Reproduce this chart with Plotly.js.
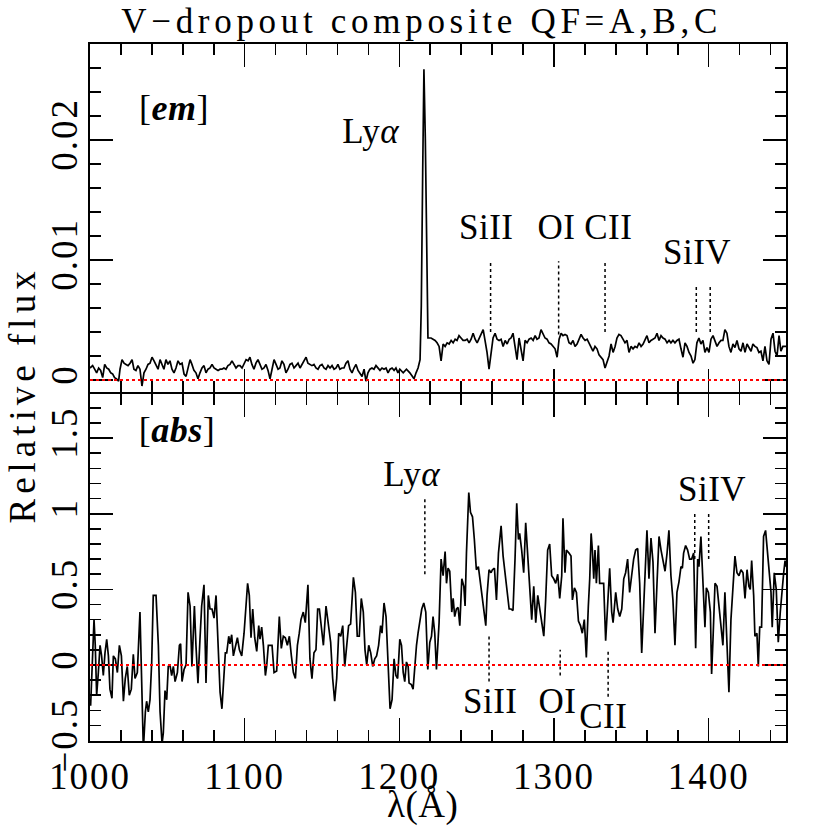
<!DOCTYPE html>
<html>
<head>
<meta charset="utf-8">
<script src="https://cdn.plot.ly/plotly-3.0.1.min.js"></script>
<style>
  body { margin: 0; background: #fff; }
  #graph { width: 830px; height: 830px; }
  .main-svg text { letter-spacing: 2px; }
  .gtitle { letter-spacing: 4.7px !important; }
  .annotation text { letter-spacing: 0.5px; }
  .annotation[data-index="0"] text { letter-spacing: 5px; }
</style>
</head>
<body>
<div id="graph"></div>
<script>
// top panel: emission composite
const lamEm = [
  1000.0,1001.7,1003.0,1004.3,1005.6,1006.9,1008.2,1009.5,1010.8,1012.1,
  1013.4,1014.7,1015.9,1017.2,1018.5,1019.4,1020.7,1022.0,1023.3,1024.6,
  1025.9,1027.2,1028.4,1029.7,1031.0,1032.3,1033.6,1034.9,1036.2,1037.5,
  1038.8,1040.1,1041.4,1042.7,1044.0,1045.3,1046.6,1047.8,1049.1,1050.4,
  1051.7,1053.0,1054.3,1055.6,1056.9,1058.2,1059.5,1060.8,1062.1,1063.4,
  1064.7,1065.9,1067.2,1068.5,1069.8,1071.1,1072.4,1073.7,1075.0,1076.3,
  1077.6,1078.9,1080.2,1081.5,1082.8,1084.1,1085.3,1086.6,1087.9,1089.2,
  1090.5,1091.8,1093.1,1094.4,1095.7,1097.0,1098.3,1099.6,1100.9,1102.2,
  1103.4,1104.7,1106.0,1107.3,1108.6,1109.9,1111.2,1112.5,1113.8,1115.1,
  1116.4,1117.7,1119.0,1120.3,1121.6,1122.8,1124.1,1125.4,1126.7,1128.0,
  1129.3,1130.6,1131.9,1133.2,1134.5,1135.8,1137.1,1138.4,1139.7,1140.9,
  1142.2,1143.5,1144.8,1146.1,1147.4,1148.7,1150.0,1151.3,1152.6,1153.9,
  1155.2,1156.5,1157.8,1159.1,1160.3,1161.6,1162.9,1164.2,1165.5,1166.8,
  1168.1,1169.4,1170.7,1172.0,1173.3,1174.6,1175.9,1177.2,1178.4,1179.7,
  1181.0,1182.3,1183.6,1184.9,1186.2,1187.5,1188.8,1190.1,1191.4,1192.7,
  1194.0,1195.3,1196.6,1197.8,1199.1,
  1200.3,1202.5,1204.6,1206.8,1208.2,1209.5,1210.8,1212.1,1213.4,1214.2,
  1215.1,1215.9,1216.8,1217.7,1218.5,
  1220.5,1221.8,1223.1,1224.4,1225.7,1227.0,1228.3,1229.6,1230.9,1232.2,
  1233.5,1234.8,1236.1,1237.3,1238.6,1239.9,1241.2,1242.5,1243.8,1245.1,
  1246.4,1247.7,1249.0,1250.3,1251.6,1252.9,1254.2,1255.4,1256.7,1258.0,
  1259.3,1260.6,1261.9,1263.2,1264.5,1265.8,1267.1,1268.4,1269.7,1271.0,
  1272.2,1273.5,1274.8,1276.1,1277.4,1278.7,1280.0,1281.3,1282.6,1283.9,
  1285.2,1286.5,1287.8,1289.0,1290.3,1291.6,1292.9,1294.2,1295.5,1296.8,
  1298.1,1299.4,1300.7,1302.0,1303.3,1304.6,1305.8,1307.1,1308.4,1309.7,
  1311.0,1312.3,1313.6,1314.9,1316.2,1317.5,1318.8,1320.1,1321.4,1322.6,
  1323.9,1325.2,1326.5,1327.8,1329.1,1330.4,1331.7,1333.0,1334.3,1335.6,
  1336.9,1338.2,1339.5,1340.7,1342.0,1343.3,1344.6,1345.9,1347.2,1348.5,
  1349.8,1351.1,1352.4,1353.7,1355.0,1356.3,1357.6,1358.8,1360.1,1361.4,
  1362.7,1364.0,1365.3,1366.6,1367.9,1369.2,1370.5,1371.8,1373.1,1374.4,
  1375.6,1376.9,1378.2,1379.5,1380.8,1382.1,1383.4,1384.7,1386.0,1387.3,
  1388.6,1389.9,1391.1,1392.4,1393.7,1395.0,1396.3,1397.6,1398.9,1400.2,
  1401.5,1402.8,1404.1,1405.4,1406.7,1408.0,1409.2,1410.5,1411.8,1413.1,
  1414.4,1415.7,1417.0,1418.3,1419.6,1420.9,1422.2,1423.5,1424.8,1426.1,
  1427.4,1428.6,1429.9,1431.2,1432.5,1433.8,1435.1,1436.4,1437.7,1439.0,
  1440.3,1441.6,1442.9,1444.2,1445.5,1446.7,1448.0,1450.0
];
const fluxEm = [
  0.0010,0.0012,0.0009,0.0006,0.0010,0.0008,0.0002,0.0013,0.0010,0.0009,
  0.0006,0.0005,0.0002,0.0001,-0.0001,0.0009,0.0017,0.0014,0.0013,0.0012,
  0.0014,0.0017,0.0009,0.0008,0.0012,0.0009,-0.0005,0.0006,0.0009,0.0013,
  0.0014,0.0019,0.0016,0.0013,0.0009,0.0017,0.0013,0.0009,0.0017,0.0013,
  0.0016,0.0009,0.0006,0.0010,0.0016,0.0013,0.0014,0.0005,0.0003,0.0009,
  0.0017,0.0013,0.0008,0.0006,0.0001,0.0006,0.0010,0.0012,0.0006,0.0009,
  0.0010,0.0013,0.0010,0.0009,0.0008,0.0009,0.0009,0.0010,0.0009,0.0012,
  0.0013,0.0016,0.0013,0.0010,0.0012,0.0012,0.0010,0.0013,0.0017,0.0016,
  0.0019,0.0013,0.0009,0.0014,0.0017,0.0013,0.0009,0.0010,0.0013,0.0008,
  0.0001,0.0009,0.0017,0.0013,0.0009,0.0010,0.0016,0.0013,0.0006,0.0009,
  0.0013,0.0014,0.0010,0.0012,0.0014,0.0010,0.0013,0.0016,0.0019,0.0014,
  0.0013,0.0012,0.0013,0.0010,0.0009,0.0012,0.0013,0.0010,0.0009,0.0012,
  0.0010,0.0012,0.0009,0.0010,0.0013,0.0009,0.0010,0.0010,0.0014,0.0016,
  0.0009,0.0006,0.0010,0.0013,0.0008,0.0005,0.0003,0.0009,-0.0001,0.0006,
  0.0009,0.0010,0.0009,0.0012,0.0010,0.0008,0.0010,0.0009,0.0010,0.0006,
  0.0009,0.0010,0.0008,0.0010,0.0006,
  0.0009,0.0006,0.0009,0.0006,0.0003,0.0001,0.0006,0.0010,0.0017,0.0062,
  0.0173,0.0259,0.0201,0.0117,0.0035,
  0.0035,0.0034,0.0033,0.0031,0.0028,0.0016,0.0030,0.0028,0.0031,0.0030,
  0.0033,0.0031,0.0034,0.0033,0.0037,0.0035,0.0033,0.0033,0.0034,0.0031,
  0.0034,0.0039,0.0034,0.0031,0.0035,0.0039,0.0042,0.0033,0.0023,0.0009,
  0.0020,0.0035,0.0039,0.0034,0.0033,0.0034,0.0028,0.0033,0.0030,0.0034,
  0.0035,0.0039,0.0028,0.0017,0.0035,0.0027,0.0016,0.0033,0.0031,0.0034,
  0.0035,0.0033,0.0037,0.0034,0.0035,0.0042,0.0038,0.0035,0.0034,0.0031,
  0.0030,0.0028,0.0026,0.0019,0.0034,0.0039,0.0037,0.0038,0.0037,0.0031,
  0.0030,0.0033,0.0028,0.0030,0.0034,0.0038,0.0035,0.0033,0.0034,0.0031,
  0.0027,0.0024,0.0028,0.0026,0.0021,0.0019,0.0017,0.0010,0.0016,0.0020,
  0.0030,0.0023,0.0028,0.0035,0.0038,0.0037,0.0034,0.0031,0.0033,0.0023,
  0.0028,0.0026,0.0028,0.0027,0.0031,0.0028,0.0030,0.0033,0.0037,0.0031,
  0.0033,0.0034,0.0035,0.0039,0.0033,0.0037,0.0035,0.0034,0.0031,0.0033,
  0.0031,0.0033,0.0031,0.0033,0.0034,0.0026,0.0019,0.0031,0.0028,0.0023,
  0.0020,0.0014,0.0017,0.0031,0.0035,0.0030,0.0033,0.0023,0.0027,0.0023,
  0.0034,0.0037,0.0033,0.0028,0.0031,0.0033,0.0033,0.0042,0.0039,0.0028,
  0.0023,0.0030,0.0027,0.0033,0.0026,0.0024,0.0031,0.0023,0.0030,0.0027,
  0.0024,0.0030,0.0028,0.0027,0.0023,0.0024,0.0016,0.0028,0.0016,0.0013,
  0.0034,0.0039,0.0024,0.0020,0.0037,0.0024,0.0028,0.0028
];

// bottom panel: absorption composite
const lamAbs = [
  1000.4,1001.3,1002.6,1003.4,1004.3,1005.4,1006.5,1007.5,1008.6,1009.7,
  1010.8,1011.9,1012.9,1014.2,1015.1,1016.4,1017.7,1019.0,1020.3,1021.6,
  1022.8,1024.1,1025.4,1026.7,1028.0,1029.1,1030.6,1032.3,1033.6,1034.5,
  1035.8,1036.6,1037.7,1038.8,1039.9,1040.9,1042.7,1044.2,1045.3,1046.6,
  1047.4,1048.5,1049.6,1050.6,1051.7,1052.8,1053.9,1055.0,1056.5,1057.8,
  1058.6,1059.5,1060.8,1062.1,1063.4,1064.7,1065.9,1067.5,1068.5,1069.8,
  1071.1,1072.2,1073.7,1075.0,1076.5,1077.6,1078.9,1080.2,1081.5,1083.0,
  1084.1,1085.3,1086.2,1087.5,1088.4,1089.7,1090.5,1091.6,1092.7,1094.0,
  1095.3,1096.6,1098.1,1099.6,1100.6,1101.9,1103.0,1104.1,1105.2,1106.5,
  1107.8,1109.1,1109.9,1111.0,1112.1,1113.4,1114.2,1115.3,1116.4,1117.7,
  1119.0,1120.7,1122.4,1123.7,1125.0,1126.3,1127.6,1128.9,1130.2,1131.5,
  1132.8,1134.1,1135.3,1136.4,1137.9,1139.2,1140.9,1142.2,1143.5,1144.8,
  1146.1,1147.2,1148.3,1149.6,1150.9,1152.6,1154.1,1155.6,1156.9,1158.2,
  1159.5,1160.8,1162.1,1163.4,1164.7,1165.9,1167.2,1168.5,1170.3,1171.6,
  1172.8,1174.1,1175.4,1176.7,1177.8,1178.9,1180.2,1181.5,1182.8,1184.1,
  1185.3,1186.6,1187.9,1188.8,1190.1,1191.4,1192.7,1194.0,1195.3,1196.6,
  1197.8,1198.9,
  1200.3,1201.4,1202.5,1203.5,1204.6,1205.7,1206.3,1207.8,1208.9,1210.0,
  1211.1,1212.1,1213.2,1214.5,1215.8,1217.1,1218.4,1219.7,1220.8,1221.8,
  1222.9,1224.0,1225.7,1227.0,1228.3,1229.6,1230.5,1231.5,1232.6,1233.9,
  1234.8,1235.8,1236.9,1238.0,1239.1,1240.4,1241.7,1242.5,1243.4,1244.9,
  1246.0,1247.3,1248.5,1249.8,1251.1,1252.0,1252.9,1253.7,1254.6,1255.9,
  1256.7,1258.0,1259.3,1260.2,1261.5,1262.8,1264.1,1265.8,1267.1,1268.4,
  1269.7,1271.0,1272.2,1273.5,1274.8,1275.9,1277.0,1277.8,1279.1,1280.4,
  1281.7,1283.0,1284.3,1285.6,1286.9,1288.2,1289.5,1290.8,1292.1,1293.4,
  1294.6,1295.9,1297.2,1298.5,1299.8,1301.1,1302.4,1303.7,1305.0,1305.8,
  1307.1,1308.0,1309.7,1311.0,1311.9,1313.2,1314.5,1315.8,1317.1,1318.3,
  1319.6,1320.9,1322.2,1323.1,1324.0,1324.8,1325.7,1326.5,1327.4,1328.7,
  1329.5,1330.8,1332.1,1333.4,1334.7,1336.0,1337.3,1338.2,1339.9,1341.2,
  1342.5,1343.8,1345.1,1346.3,1347.6,1348.9,1350.2,1351.5,1352.8,1354.1,
  1355.4,1356.7,1358.0,1359.3,1360.1,1361.4,1362.7,1364.0,1365.3,1366.6,
  1367.9,1369.2,1370.5,1371.8,1373.1,1374.3,1375.6,1376.9,1378.2,1379.5,
  1380.8,1382.1,1383.0,1383.8,1385.1,1386.4,1387.7,1389.0,1390.3,1391.6,
  1392.9,1393.7,1395.0,1396.3,1397.6,1398.5,1399.8,1401.1,1401.9,1402.8,
  1404.1,1405.4,1406.7,1408.0,1409.2,1410.5,1411.8,1413.1,1414.4,1415.7,
  1417.0,1418.3,1419.6,1420.9,1422.2,1423.5,1424.8,1426.0,1426.9,1427.8,
  1429.1,1429.9,1431.2,1432.1,1433.0,1434.2,1435.5,1436.8,1438.1,1439.0,
  1440.3,1441.1,1442.4,1443.7,1445.0,1446.3,1447.6,1448.5,1449.4,1450.0
];
const fluxAbs = [
  -0.27,0.02,0.30,0.13,-0.20,-0.05,0.13,0.06,-0.07,0.08,
  0.17,0.06,-0.16,-0.22,0.06,0.04,-0.05,0.13,0.06,-0.24,
  -0.09,-0.01,-0.20,-0.16,0.07,-0.09,-0.05,0.35,-0.09,-0.56,
  -0.31,-0.24,-0.31,-0.23,0.02,0.46,0.46,0.13,-0.31,-0.52,
  -0.45,-0.17,-0.23,-0.01,0.00,-0.07,-0.01,-0.11,-0.05,0.13,
  0.14,-0.11,-0.03,0.00,0.48,0.39,-0.01,0.39,0.13,-0.12,
  0.17,0.39,0.53,-0.12,0.46,0.37,0.37,0.31,0.46,0.02,
  -0.18,-0.29,-0.14,0.08,0.08,0.19,0.14,0.20,0.06,0.13,
  0.18,0.10,0.06,0.21,0.35,0.54,0.46,0.18,0.37,0.18,
  0.09,0.26,0.17,0.25,0.13,-0.07,-0.01,0.13,0.13,0.13,
  -0.05,-0.04,0.32,0.11,0.19,0.18,0.13,0.19,0.06,-0.05,
  -0.09,0.13,0.21,0.30,0.35,0.28,0.53,0.04,-0.09,0.08,
  0.10,0.37,0.37,0.24,0.13,0.39,0.26,0.15,-0.09,-0.24,
  -0.09,0.21,0.19,0.26,-0.01,0.15,0.26,0.27,0.58,0.48,
  0.19,0.19,0.44,0.35,0.10,0.00,0.13,0.08,-0.01,0.04,
  0.06,0.13,0.26,0.21,0.41,0.32,-0.05,-0.29,-0.23,0.04,
  -0.07,-0.09,
  0.17,0.13,-0.05,-0.11,0.02,-0.01,-0.12,-0.13,-0.16,0.02,
  0.13,0.21,0.30,0.37,0.41,0.35,-0.03,0.15,0.19,0.32,
  0.21,-0.03,0.28,0.70,0.59,0.75,0.54,0.64,0.62,0.35,
  0.44,0.32,0.37,0.38,0.26,0.57,0.52,0.39,0.74,1.14,
  1.01,0.98,0.83,0.63,0.65,0.57,0.52,0.46,0.37,0.26,
  0.46,0.63,0.61,0.63,0.64,0.43,0.74,0.92,0.72,0.61,
  0.48,0.37,0.37,0.36,0.70,1.07,0.83,0.87,0.76,0.61,
  0.94,0.70,0.46,0.30,0.52,0.28,0.46,0.37,0.25,0.19,
  0.43,0.76,0.80,0.59,0.57,0.54,0.60,0.44,0.59,0.97,
  0.61,0.76,0.74,0.72,0.43,0.51,0.48,0.29,0.26,0.21,
  0.30,0.05,0.39,0.57,0.87,0.76,0.57,0.76,0.54,0.79,
  0.54,0.54,0.54,0.16,0.39,0.64,0.35,0.28,0.48,0.37,
  0.32,0.37,0.57,0.61,0.70,0.48,0.59,0.70,0.76,0.77,
  0.54,0.08,0.39,0.69,0.89,0.57,0.84,0.68,0.21,0.54,
  0.85,0.76,0.70,0.62,0.74,0.89,0.59,0.43,0.13,0.48,
  0.55,0.65,0.64,0.74,0.79,0.76,0.70,0.70,0.74,0.11,
  0.70,0.65,0.85,0.50,0.25,0.51,0.48,0.35,-0.06,0.17,
  0.54,0.52,0.39,0.26,0.13,0.48,0.17,-0.18,0.30,0.48,
  0.72,0.61,0.59,0.63,0.61,0.44,0.63,0.52,0.50,0.69,
  0.46,0.19,0.21,-0.01,0.25,0.25,0.85,0.89,0.72,0.65,
  0.48,0.25,0.61,0.50,0.15,0.35,0.53,0.61,0.69,0.65
];

// line markers (dotted ticks)
const emMarkWave = [1259, 1303, 1333, 1392, 1401];
const emMarkTop  = [0.0099, 0.0099, 0.0099, 0.0078, 0.0078];
const emMarkBase = [0.0040, 0.0038, 0.0040, 0.0040, 0.0040];
const absMarkWave = [1216.5, 1258, 1304, 1335, 1391, 1400];
const absMarkTop  = [1.11, 0.20, 0.10, 0.10, 1.01, 1.01];
const absMarkBase = [0.60, -0.11, -0.07, -0.21, 0.70, 0.70];

// line labels
const emLabelText = ['Ly<i>α</i>', 'SiII', 'OI', 'CII', 'SiIV'];
const emLabelWave = [1181.6, 1256.5, 1301.8, 1335.4, 1392.6];
const emLabelFlux = [0.0207, 0.0127, 0.0127, 0.0127, 0.0106];
const absLabelText = ['Ly<i>α</i>', 'SiIV', 'SiII', 'OI', 'CII'];
const absLabelWave = [1208.4, 1402.3, 1259.1, 1302.1, 1331.8];
const absLabelFlux = [1.26, 1.16, -0.24, -0.24, -0.34];

const xTicks = [1000, 1100, 1200, 1300, 1400];
const emTicks = [0, 0.01, 0.02];
const absTicks = [-0.5, 0, 0.5, 1, 1.5];

const serif = 'Liberation Serif, Times New Roman, serif';
const ink = 'black';

let traceEm = {
  x: lamEm, y: fluxEm, xaxis: 'x2', yaxis: 'y2',
  type: 'scatter', mode: 'lines',
  line: { color: ink, width: 1.7 }, hoverinfo: 'skip'
};
let traceAbs = {
  x: lamAbs, y: fluxAbs, xaxis: 'x', yaxis: 'y',
  type: 'scatter', mode: 'lines',
  line: { color: ink, width: 1.7 }, hoverinfo: 'skip'
};

const shapes = [];
// zero levels
shapes.push({ type: 'line', xref: 'paper', x0: 0, x1: 1, yref: 'y2', y0: 0, y1: 0,
  line: { color: 'red', width: 2, dash: 'dot' } });
shapes.push({ type: 'line', xref: 'paper', x0: 0, x1: 1, yref: 'y', y0: 0, y1: 0,
  line: { color: 'red', width: 2, dash: 'dot' } });
emMarkWave.forEach(function (w, i) {
  shapes.push({ type: 'line', xref: 'x2', yref: 'y2', x0: w, x1: w,
    y0: emMarkBase[i], y1: emMarkTop[i], line: { color: ink, width: 1.5, dash: 'dot' } });
});
absMarkWave.forEach(function (w, i) {
  shapes.push({ type: 'line', xref: 'x', yref: 'y', x0: w, x1: w,
    y0: absMarkBase[i], y1: absMarkTop[i], line: { color: ink, width: 1.5, dash: 'dot' } });
});

const annotations = [];
// shared y title (index 0, gets extra letter spacing)
annotations.push({ text: 'Relative flux', xref: 'paper', yref: 'paper',
  x: -0.0977, y: 0.4964, textangle: -90, showarrow: false,
  xanchor: 'center', yanchor: 'middle', font: { family: serif, size: 37, color: ink } });
annotations.push({ text: 'λ(Å)', xref: 'paper', yref: 'paper',
  x: 0.478, y: -0.092, showarrow: false, xanchor: 'center', yanchor: 'middle',
  font: { family: serif, size: 37, color: ink } });
annotations.push({ text: '[<b><i>em</i></b>]', xref: 'x2', yref: 'y2',
  x: 1054.3, y: 0.0227, showarrow: false, xanchor: 'center', yanchor: 'middle',
  font: { family: serif, size: 36, color: ink } });
annotations.push({ text: '[<b><i>abs</i></b>]', xref: 'x', yref: 'y',
  x: 1056.5, y: 1.557, showarrow: false, xanchor: 'center', yanchor: 'middle',
  font: { family: serif, size: 36, color: ink } });
emLabelText.forEach(function (t, i) {
  annotations.push({ text: t, xref: 'x2', yref: 'y2', x: emLabelWave[i], y: emLabelFlux[i],
    showarrow: false, xanchor: 'center', yanchor: 'middle',
    font: { family: serif, size: 35, color: ink } });
});
absLabelText.forEach(function (t, i) {
  annotations.push({ text: t, xref: 'x', yref: 'y', x: absLabelWave[i], y: absLabelFlux[i],
    showarrow: false, xanchor: 'center', yanchor: 'middle',
    font: { family: serif, size: 35, color: ink } });
});

const axisBase = {
  showline: true, linecolor: ink, linewidth: 2, mirror: 'allticks',
  ticks: 'inside', tickcolor: ink, tickwidth: 1.6, ticklen: 23,
  showgrid: false, zeroline: false, fixedrange: true,
  tickfont: { family: serif, size: 37, color: ink }
};

let layout = {
  width: 830, height: 830,
  margin: { l: 90, r: 44, t: 44, b: 89 },
  paper_bgcolor: 'white', plot_bgcolor: 'white',
  showlegend: false,
  title: {
    text: 'V−dropout composite QF=A,B,C',
    font: { family: serif, size: 35, color: ink },
    x: 0.508, xref: 'container', xanchor: 'center',
    y: 0.990, yref: 'container', yanchor: 'top'
  },
  xaxis: Object.assign({}, axisBase, {
    anchor: 'y', domain: [0, 1], range: [1000, 1450],
    tickmode: 'array', tickvals: xTicks, ticklabelstandoff: 2,
    minor: { tickmode: 'linear', tick0: 1000, dtick: 20, ticks: 'inside', ticklen: 11, tickwidth: 1.6, tickcolor: ink }
  }),
  xaxis2: Object.assign({}, axisBase, {
    anchor: 'y2', matches: 'x', range: [1000, 1450], showticklabels: false,
    tickmode: 'array', tickvals: xTicks,
    minor: { tickmode: 'linear', tick0: 1000, dtick: 20, ticks: 'inside', ticklen: 11, tickwidth: 1.6, tickcolor: ink }
  }),
  yaxis: Object.assign({}, axisBase, {
    anchor: 'x', domain: [0, 0.4978], range: [-0.503, 1.792],
    tickmode: 'array', tickvals: absTicks, tickangle: -90, ticklabelstandoff: -4,
    minor: { tickmode: 'linear', tick0: -0.5, dtick: 0.1, ticks: 'inside', ticklen: 11, tickwidth: 1.6, tickcolor: ink }
  }),
  yaxis2: Object.assign({}, axisBase, {
    anchor: 'x2', domain: [0.5007, 1], range: [-0.001, 0.028],
    tickmode: 'array', tickvals: emTicks, tickangle: -90, ticklabelstandoff: -4,
    minor: { tickmode: 'linear', tick0: 0, dtick: 0.002, ticks: 'inside', ticklen: 11, tickwidth: 1.6, tickcolor: ink }
  }),
  shapes: shapes,
  annotations: annotations
};

var config = { staticPlot: true, responsive: false };
Plotly.newPlot('graph', [traceEm, traceAbs], layout, config);
</script>
</body>
</html>
